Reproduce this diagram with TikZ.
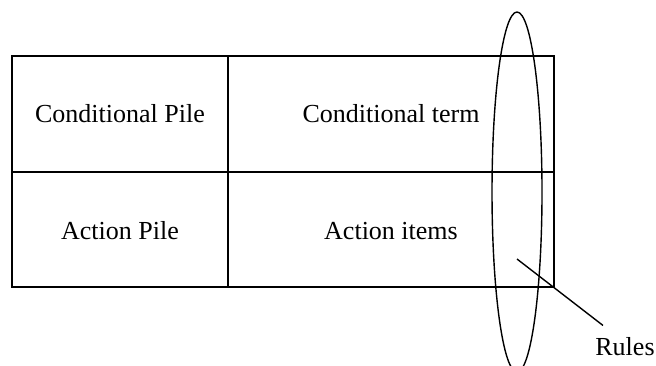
\documentclass[tikz,border=0pt]{standalone}
\usepackage{fontspec}
\setmainfont{Liberation Serif}
\usetikzlibrary{shapes.geometric}
\tikzset{
  cell/.style={font=\fontsize{13}{15.6}\selectfont},
  rim/.style={line width=0.7pt}
}

\begin{document}
\begin{tikzpicture}[x=0.5pt, y=-0.5pt]
    \useasboundingbox (0,0) rectangle (656,365);
    \coordinate (tl) at (12,56);
    \coordinate (br) at (554,287);
    \coordinate (ml) at (12,172);
    \coordinate (mr) at (554,172);
    \coordinate (ct) at (228,56);
    \coordinate (cb) at (228,287);
    \draw[rim] (tl) rectangle (br);
    \draw[rim] (ml)--(mr);
    \draw[rim] (ct)--(cb);
    \node[cell] (CP) at (120,114){Conditional Pile};
    \node[cell] (CT) at (391,114){Conditional term};
    \node[cell] (AP) at (120,231){Action Pile};
    \node[cell] (AI) at (391,231){Action items};
    \node[rim, draw, ellipse, inner sep=0pt,
          minimum width=25pt, minimum height=180pt] (rules) at (517,192){};
    \node[cell, inner sep=1pt] (lbl) at (625,347){Rules};
    \coordinate (tip) at (517,259);
    \draw[rim] (tip)--([xshift=5pt, yshift=5pt]lbl.north west);
  \end{tikzpicture}
\end{document}
